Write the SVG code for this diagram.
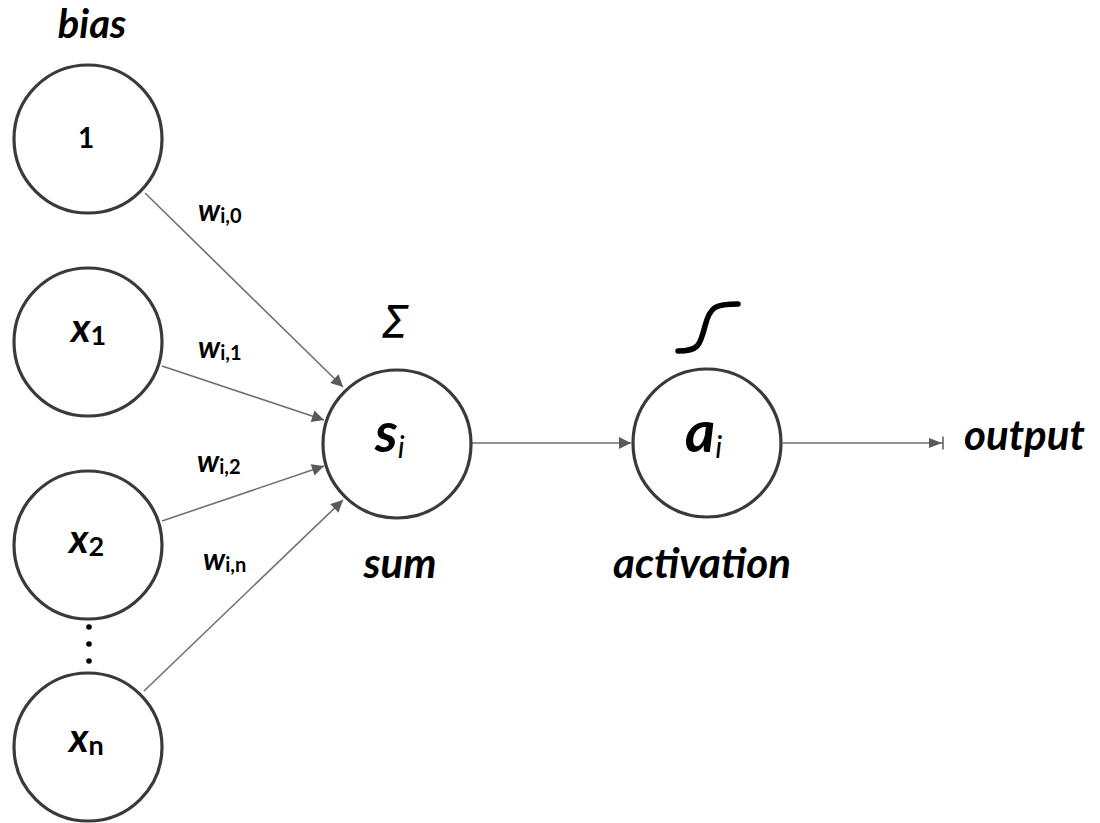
<svg xmlns="http://www.w3.org/2000/svg" width="1100" height="823" viewBox="0 0 1100 823">
  <style>
    .node { fill: #ffffff; stroke: #3a3a3a; stroke-width: 3.2; }
    .edge { fill: none; stroke: #707070; stroke-width: 1.6; }
    .lbl { font-family: Lato, "Open Sans", "Liberation Sans", sans-serif; font-weight: bold; font-style: italic; fill: #000; }
    .sub { font-family: Lato, "Open Sans", "Liberation Sans", sans-serif; font-weight: bold; font-style: normal; fill: #000; }
  </style>
  <defs>
    <marker id="arrow" viewBox="0 0 10 10" refX="10" refY="5" markerWidth="13" markerHeight="12" markerUnits="userSpaceOnUse" orient="auto">
      <path d="M0,0 L10,5 L0,10 z" fill="#5a5a5a"/>
    </marker>
    <marker id="arrowStop" viewBox="0 0 16 14" refX="15" refY="7" markerWidth="16" markerHeight="14" markerUnits="userSpaceOnUse" orient="auto">
      <path d="M1,2 L14,7 L1,12 z" fill="#5a5a5a"/>
      <line x1="15" y1="0.5" x2="15" y2="13.5" stroke="#5a5a5a" stroke-width="1.5"/>
    </marker>
  </defs>

  <!-- connectors -->
  <g id="connectors">
    <line class="edge" x1="145" y1="193" x2="343" y2="387" marker-end="url(#arrow)"/>
    <line class="edge" x1="162" y1="366" x2="324" y2="420" marker-end="url(#arrow)"/>
    <line class="edge" x1="162" y1="521" x2="324" y2="466" marker-end="url(#arrow)"/>
    <line class="edge" x1="144" y1="691" x2="343" y2="500" marker-end="url(#arrow)"/>
    <line class="edge" x1="471" y1="443" x2="631" y2="443" marker-end="url(#arrow)"/>
    <line class="edge" x1="783" y1="443" x2="943" y2="443" marker-end="url(#arrowStop)"/>
  </g>

  <!-- weight labels -->
  <g id="weights">
    <text class="lbl" x="198" y="221" font-size="30">w<tspan class="sub" font-size="20" dy="2">i,0</tspan></text>
    <text class="lbl" x="198" y="358" font-size="30">w<tspan class="sub" font-size="20" dy="2">i,1</tspan></text>
    <text class="lbl" x="197" y="472" font-size="30">w<tspan class="sub" font-size="20" dy="2">i,2</tspan></text>
    <text class="lbl" x="203" y="570" font-size="30">w<tspan class="sub" font-size="20" dy="2">i,n</tspan></text>
  </g>

  <!-- bias input -->
  <g id="bias">
    <text class="lbl" x="92" y="38" font-size="40" text-anchor="middle">bias</text>
    <circle class="node" cx="88" cy="139" r="74"/>
    <text class="sub" x="86" y="148" font-size="28" text-anchor="middle">1</text>
  </g>

  <!-- input x1 -->
  <g id="x1">
    <circle class="node" cx="88" cy="342" r="74"/>
    <text class="lbl" x="71" y="342" font-size="40">x<tspan class="sub" font-size="27" dy="3">1</tspan></text>
  </g>

  <!-- input x2 -->
  <g id="x2">
    <circle class="node" cx="88" cy="545" r="74"/>
    <text class="lbl" x="69" y="553" font-size="40">x<tspan class="sub" font-size="27" dy="3">2</tspan></text>
  </g>

  <!-- ellipsis between inputs -->
  <g id="ellipsis" fill="#000">
    <circle cx="89" cy="627" r="2.8"/>
    <circle cx="89" cy="644" r="2.8"/>
    <circle cx="89" cy="661" r="2.8"/>
  </g>

  <!-- input xn -->
  <g id="xn">
    <circle class="node" cx="88" cy="747" r="74"/>
    <text class="lbl" x="69" y="752" font-size="40">x<tspan class="sub" font-size="27" dy="3">n</tspan></text>
  </g>

  <!-- summation node -->
  <g id="sum">
    <text x="395" y="338" font-family="'DejaVu Sans', sans-serif" font-style="italic" font-size="44" text-anchor="middle" fill="#000">Σ</text>
    <circle class="node" cx="397" cy="444" r="74"/>
    <text class="lbl" x="375" y="452" font-size="56">s<tspan font-weight="normal" font-size="30" dy="6">i</tspan></text>
    <text class="lbl" x="400" y="578" font-size="42" text-anchor="middle">sum</text>
  </g>

  <!-- activation node -->
  <g id="activation">
    <path d="M678,351 C698,351 700,346 705,326 C710,306 716,304 738,304" fill="none" stroke="#000" stroke-width="5.5" stroke-linecap="round"/>
    <circle class="node" cx="707" cy="443" r="74"/>
    <text class="lbl" x="685" y="452" font-size="58">a<tspan font-weight="normal" font-size="30" dy="6">i</tspan></text>
    <text class="lbl" x="702" y="578" font-size="42" text-anchor="middle">activation</text>
  </g>

  <!-- output label -->
  <g id="output">
    <text class="lbl" x="964" y="450" font-size="42">output</text>
  </g>
</svg>
